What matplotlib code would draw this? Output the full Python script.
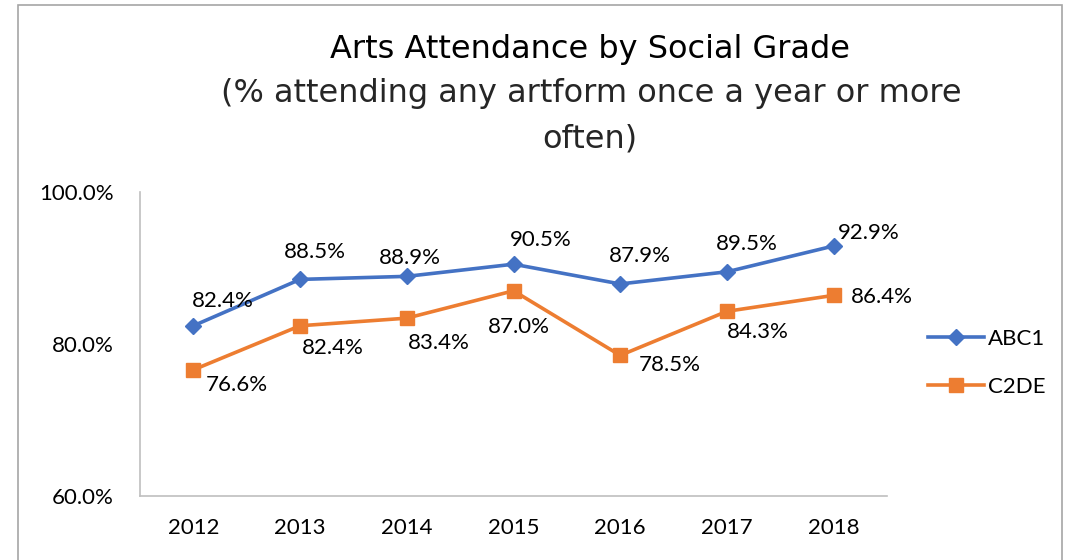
import matplotlib.pyplot as plt
from matplotlib.patches import Rectangle
from matplotlib.ticker import FuncFormatter

years = ['2012', '2013', '2014', '2015', '2016', '2017', '2018']
abc1 = [82.4, 88.5, 88.9, 90.5, 87.9, 89.5, 92.9]
c2de = [76.6, 82.4, 83.4, 87.0, 78.5, 84.3, 86.4]

title = 'Arts Attendance by Social Grade'
subtitle_lines = ['(% attending any artform once a year or more', 'often)']

# label offsets in pixels (dx, dy), taken from where Excel put them
abc1_offsets = [(29, 25), (15, 27), (3, 18), (27, 24), (20, 28), (20, 28), (35, 13)]
c2de_offsets = [(43, -15), (33, -22), (32, -25), (5, -36), (50, -10), (31, -21), (48, -2)]

blue = '#4472C4'
orange = '#ED7D31'
label_font = ['Lato', 'DejaVu Sans']

fig = plt.figure(figsize=(10.75, 5.6), dpi=100)
ax = fig.add_axes([140 / 1075, 64 / 560, 747 / 1075, 304 / 560])

x = list(range(len(years)))
ax.plot(x, [v / 100 for v in abc1], color=blue, lw=2.6, marker='D', ms=8, label='ABC1')
ax.plot(x, [v / 100 for v in c2de], color=orange, lw=2.6, marker='s', ms=10, label='C2DE')

for i, v in enumerate(abc1):
    ax.annotate(f'{v:.1f}%', (i, v / 100), xytext=abc1_offsets[i], textcoords='offset pixels',
                ha='center', va='center', fontsize=16, family=label_font)
for i, v in enumerate(c2de):
    ax.annotate(f'{v:.1f}%', (i, v / 100), xytext=c2de_offsets[i], textcoords='offset pixels',
                ha='center', va='center', fontsize=16, family=label_font)

ax.set_xlim(-0.5, len(years) - 0.5)
ax.set_ylim(0.6, 1.0)
ax.set_xticks(x)
ax.set_xticklabels(years)
ax.set_yticks([0.6, 0.8, 1.0])
ax.yaxis.set_major_formatter(FuncFormatter(lambda v, p: f'{v * 100:.1f}%'))
ax.tick_params(length=0, labelsize=16)
ax.tick_params(axis='x', pad=16)
ax.tick_params(axis='y', pad=19)
for lab in ax.get_xticklabels() + ax.get_yticklabels():
    lab.set_family(label_font)
for s in ['top', 'right']:
    ax.spines[s].set_visible(False)
for s in ['left', 'bottom']:
    ax.spines[s].set_color('#BFBFBF')
    ax.spines[s].set_linewidth(1.2)

leg = fig.legend(loc='center left', bbox_to_anchor=(908 / 1075, 1 - 363 / 560), frameon=False,
                 prop={'family': label_font, 'size': 16}, handlelength=2.5, labelspacing=1.25,
                 handletextpad=0.2)

fig.text(590 / 1075, 1 - 58 / 560, title, ha='center', va='baseline', fontsize=23)
fig.text(591 / 1075, 1 - 102 / 560, subtitle_lines[0], ha='center', va='baseline', fontsize=23,
         color='#262626')
fig.text(590 / 1075, 1 - 147 / 560, subtitle_lines[1], ha='center', va='baseline', fontsize=23,
         color='#262626')

fig.patches.append(Rectangle((18 / 1075, -0.1), 1044 / 1075, 1.1 - 5 / 560, transform=fig.transFigure,
                             fill=False, edgecolor='#A6A6A6', lw=1.2))

fig.savefig('out.png', dpi=100)
